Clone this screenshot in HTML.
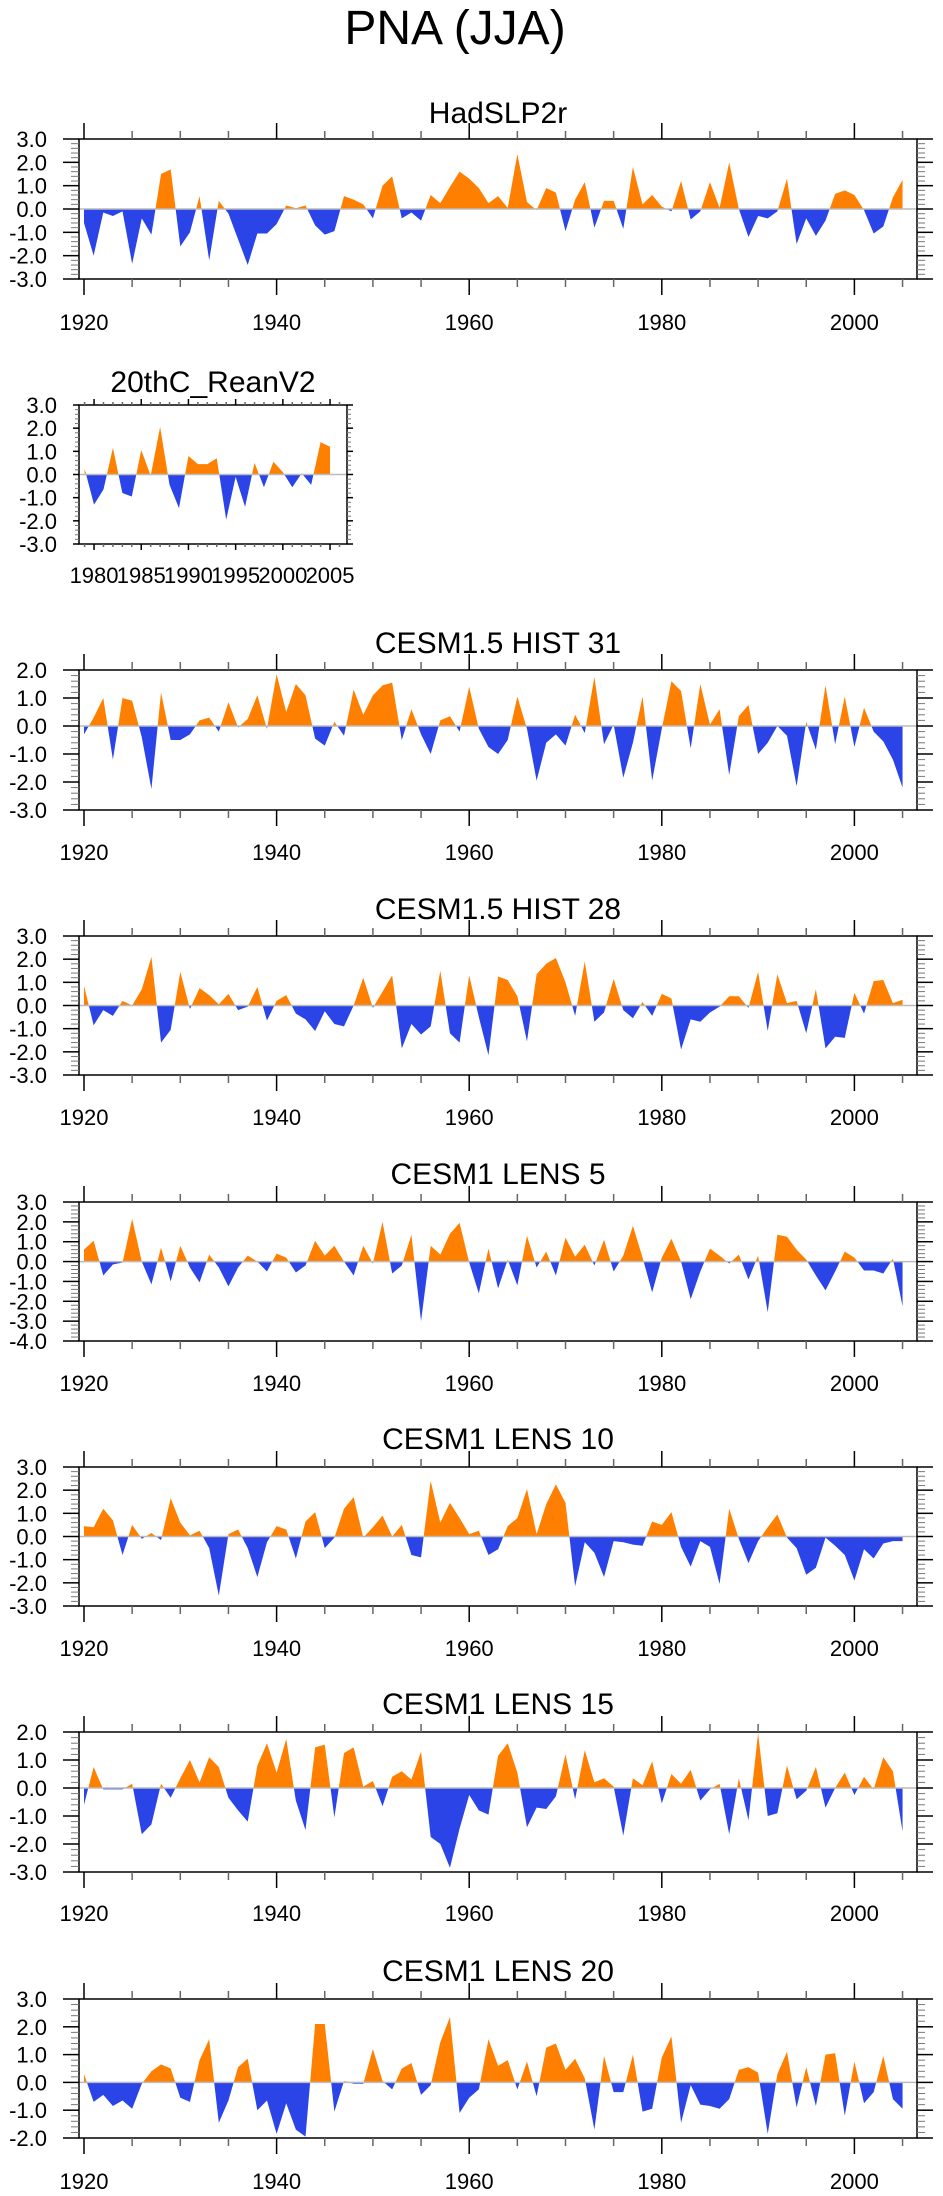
<!DOCTYPE html>
<html><head><meta charset="utf-8"><style>
html,body{margin:0;padding:0;background:#fff;}
svg{display:block;font-family:"Liberation Sans",sans-serif;}
</style></head><body>
<svg id="chart" width="943" height="2196" viewBox="0 0 943 2196" xmlns="http://www.w3.org/2000/svg">
<text x="455" y="44" font-size="48" text-anchor="middle">PNA (JJA)</text>
</svg>
<script>
// ---- data (values per year) ----
const yearsMain = {start: 1920, end: 2005};
const yearsRean = {start: 1979, end: 2005};
const hadslp2r = [-0.6,-2.0,-0.15,-0.3,-0.1,-2.35,-0.4,-1.1,1.5,1.7,-1.6,-1.0,0.55,-2.2,0.35,-0.2,-1.3,-2.4,-1.05,-1.05,-0.65,0.15,0.03,0.15,-0.7,-1.1,-0.95,0.55,0.4,0.2,-0.4,1.0,1.4,-0.4,-0.15,-0.5,0.6,0.25,0.95,1.6,1.3,0.9,0.25,0.55,0.05,2.35,0.3,-0.05,0.9,0.7,-0.95,0.4,1.15,-0.8,0.35,0.35,-0.85,1.8,0.2,0.6,0.1,-0.1,1.2,-0.45,-0.1,1.15,0.05,2.0,0.0,-1.2,-0.3,-0.4,-0.1,1.3,-1.5,-0.4,-1.15,-0.5,0.65,0.8,0.6,-0.05,-1.05,-0.75,0.5,1.25];
const rean20c = [0.25,-1.3,-0.65,1.15,-0.8,-0.95,1.05,-0.05,2.05,-0.45,-1.45,0.8,0.45,0.45,0.7,-1.95,-0.1,-1.4,0.5,-0.55,0.55,0.1,-0.55,0.05,-0.45,1.4,1.2];
const hist31 = [-0.3,0.3,1.0,-1.2,1.0,0.9,-0.4,-2.25,1.2,-0.5,-0.5,-0.3,0.2,0.3,-0.2,0.85,-0.05,0.25,1.1,-0.1,1.85,0.5,1.5,1.1,-0.45,-0.7,0.15,-0.35,1.3,0.4,1.1,1.45,1.55,-0.5,0.6,-0.3,-1.0,0.2,0.35,-0.2,1.4,-0.1,-0.75,-1.0,-0.5,1.05,-0.1,-1.95,-0.6,-0.3,-0.7,0.4,-0.25,1.75,-0.65,0.05,-1.85,-0.6,1.05,-1.95,-0.1,1.6,1.25,-0.8,1.5,0.05,0.6,-1.75,0.35,0.75,-1.0,-0.6,0.0,-0.35,-2.15,0.15,-0.85,1.45,-0.65,1.05,-0.75,0.65,-0.2,-0.55,-1.2,-2.2];
const hist28 = [0.85,-0.85,-0.2,-0.45,0.2,0.0,0.7,2.1,-1.6,-1.05,1.45,-0.15,0.75,0.45,0.05,0.5,-0.2,-0.05,0.8,-0.65,0.2,0.45,-0.35,-0.6,-1.1,-0.25,-0.8,-0.9,0.0,1.2,-0.1,0.6,1.3,-1.85,-0.8,-1.25,-0.9,1.5,-1.2,-1.6,1.3,-0.5,-2.15,1.25,1.1,0.4,-1.55,1.35,1.8,2.05,1.0,-0.45,1.9,-0.7,-0.3,1.15,-0.2,-0.55,0.15,-0.45,0.5,0.3,-1.9,-0.6,-0.7,-0.3,-0.05,0.4,0.4,-0.1,1.45,-1.1,1.35,0.1,0.2,-1.2,0.7,-1.85,-1.35,-1.4,0.55,-0.35,1.05,1.1,0.1,0.25];
const lens5 = [0.6,1.05,-0.7,-0.15,-0.05,2.15,0.0,-1.15,0.7,-1.0,0.8,-0.3,-1.05,0.35,-0.3,-1.25,-0.3,0.3,0.0,-0.5,0.4,0.2,-0.55,-0.2,1.05,0.3,0.8,0.0,-0.7,0.8,-0.1,2.0,-0.6,-0.2,1.35,-3.0,0.8,0.35,1.4,1.95,-0.05,-1.6,0.65,-1.35,0.1,-1.2,1.3,-0.3,0.5,-0.7,1.2,0.25,0.85,-0.2,1.1,-0.5,0.3,1.8,0.2,-1.55,0.2,1.15,0.0,-1.9,-0.5,0.65,0.3,-0.1,0.35,-0.9,0.3,-2.55,1.35,1.25,0.6,0.1,-0.7,-1.45,-0.5,0.5,0.2,-0.45,-0.45,-0.6,0.15,-2.25];
const lens10 = [0.45,0.4,1.2,0.7,-0.8,0.5,-0.1,0.15,-0.15,1.65,0.6,0.05,0.25,-0.5,-2.55,0.1,0.3,-0.5,-1.75,-0.25,0.45,0.3,-0.95,0.65,1.05,-0.5,-0.05,1.2,1.7,-0.05,0.4,0.9,0.0,0.5,-0.8,-0.9,2.4,0.6,1.45,0.8,0.1,0.25,-0.8,-0.55,0.45,0.8,2.05,0.1,1.4,2.25,1.45,-2.15,-0.25,-0.7,-1.75,-0.2,-0.25,-0.35,-0.4,0.65,0.5,1.05,-0.45,-1.3,-0.2,-0.45,-2.05,1.2,-0.1,-1.15,-0.2,0.4,0.95,-0.05,-0.5,-1.65,-1.35,-0.05,-0.4,-0.8,-1.9,-0.55,-0.95,-0.3,-0.2,-0.2];
const lens15 = [-0.6,0.75,-0.05,-0.05,-0.05,0.15,-1.65,-1.3,0.15,-0.35,0.35,1.0,0.2,1.1,0.75,-0.35,-0.8,-1.2,0.8,1.6,0.55,1.75,-0.45,-1.5,1.45,1.55,-1.05,1.25,1.45,0.05,0.25,-0.65,0.4,0.6,0.3,1.3,-1.75,-2.0,-2.85,-1.45,-0.25,-0.8,-0.95,1.15,1.6,0.55,-1.4,-0.7,-0.75,-0.3,1.2,-0.4,1.35,0.2,0.35,0.05,-1.7,0.35,0.1,0.95,-0.55,0.5,0.15,0.65,-0.45,-0.05,0.15,-1.65,0.35,-1.15,1.95,-1.0,-0.9,0.8,-0.4,-0.1,0.75,-0.7,0.0,0.55,-0.25,0.4,-0.05,1.1,0.6,-1.55];
const lens20 = [0.3,-0.7,-0.45,-0.85,-0.65,-0.95,-0.05,0.4,0.65,0.5,-0.55,-0.7,0.8,1.55,-1.45,-0.65,0.55,0.85,-1.0,-0.65,-1.85,-0.75,-1.7,-1.95,2.1,2.1,-1.05,0.05,-0.05,-0.05,1.2,0.05,-0.25,0.5,0.7,-0.45,-0.1,1.45,2.35,-1.1,-0.55,-0.25,1.55,0.6,0.8,-0.25,0.75,-0.5,1.25,1.4,0.45,0.85,0.15,-1.7,0.95,-0.35,-0.35,1.0,-1.05,-0.95,0.9,1.65,-1.45,-0.1,-0.8,-0.85,-0.95,-0.6,0.45,0.55,0.35,-1.85,0.3,1.1,-0.9,0.55,-0.85,1.0,1.05,-1.2,0.75,-0.75,-0.35,0.95,-0.6,-0.95];
const panelTitles = ["HadSLP2r","20thC_ReanV2","CESM1.5 HIST 31","CESM1.5 HIST 28","CESM1 LENS 5","CESM1 LENS 10","CESM1 LENS 15","CESM1 LENS 20"];
const yMins = [-3,-3,-3,-3,-4,-3,-3,-2];
const yMaxs = [3,3,2,3,3,3,2,3];
const seriesList = [hadslp2r, rean20c, hist31, hist28, lens5, lens10, lens15, lens20];

// ---- layout ----
const NS = "http://www.w3.org/2000/svg";
const svg = document.getElementById('chart');
const layouts = [
 {x0:79,x1:917,top:139,bot:279,yr0:1920,px0:84,ppy:9.63,title:112,lab:322,small:false},
 {x0:79,x1:347,top:405,bot:544,yr0:1979,px0:84.6,ppy:9.44,title:381,lab:575,small:true},
 {x0:79,x1:917,top:670,bot:810,yr0:1920,px0:84,ppy:9.63,title:642,lab:852,small:false},
 {x0:79,x1:917,top:936,bot:1075,yr0:1920,px0:84,ppy:9.63,title:908,lab:1117,small:false},
 {x0:79,x1:917,top:1202,bot:1341,yr0:1920,px0:84,ppy:9.63,title:1173,lab:1383,small:false},
 {x0:79,x1:917,top:1467,bot:1606,yr0:1920,px0:84,ppy:9.63,title:1438,lab:1648,small:false},
 {x0:79,x1:917,top:1732,bot:1872,yr0:1920,px0:84,ppy:9.63,title:1703,lab:1913,small:false},
 {x0:79,x1:917,top:1999,bot:2138,yr0:1920,px0:84,ppy:9.63,title:1970,lab:2181,small:false}
];
function mk(tag, attrs, parent){const e=document.createElementNS(NS,tag);for(const k in attrs)e.setAttribute(k,attrs[k]);(parent||svg).appendChild(e);return e;}
function line(g,x1,y1,x2,y2,c,w){return mk('line',{x1:x1,y1:y1,x2:x2,y2:y2,stroke:c||'#000','stroke-width':w||1},g);}

seriesList.forEach(function(data,i){
  const L = layouts[i], ymin=yMins[i], ymax=yMaxs[i];
  const g = mk('g',{});
  
  
  const xs = function(yr){return L.px0 + (yr - L.yr0)*L.ppy;};
  const ys = function(v){return L.bot - (v - ymin)/(ymax-ymin)*(L.bot-L.top);};
  const yz = ys(0);
  // title
  const t = mk('text',{x:(L.x0+L.x1)/2,y:L.title+11,'font-size':30,'text-anchor':'middle'},g);
  t.textContent = panelTitles[i];
  
  
  // area
  const pts = data.map(function(v,k){return [xs(L.yr0+k), ys(v)];});
  let d = 'M'+pts[0][0]+','+yz;
  pts.forEach(function(p){d+=' L'+p[0].toFixed(2)+','+p[1].toFixed(2);});
  d += ' L'+pts[pts.length-1][0]+','+yz+' Z';
  const cid='c'+i;
  const defs=mk('defs',{},g);
  const cpA=mk('clipPath',{id:cid+'a'},defs); mk('rect',{x:L.x0,y:L.top-5,width:L.x1-L.x0,height:yz-L.top+5},cpA);
  const cpB=mk('clipPath',{id:cid+'b'},defs); mk('rect',{x:L.x0,y:yz,width:L.x1-L.x0,height:L.bot-yz+5},cpB);
  const pos = mk('path',{d:d,fill:'#ff8000','clip-path':'url(#'+cid+'a)'},g);
  
  
  const neg = mk('path',{d:d,fill:'#2b44e8','clip-path':'url(#'+cid+'b)'},g);
  
  
  const zl = line(g,L.x0,yz,L.x1,yz,'#bbbbbb',1.5);
  
  
  // frame
  const fr = mk('rect',{x:L.x0,y:L.top,width:L.x1-L.x0,height:L.bot-L.top,fill:'none',stroke:'#000','stroke-width':1.5},g);
  
  
  // y ticks
  const majL = L.small?6:16, minL = L.small?4:8;
  for(let v=ymin; v<=ymax+1e-6; v+=0.2){
    const y=ys(v); const isMaj=Math.abs(v-Math.round(v))<1e-6;
    const len=isMaj?majL:minL;
    line(g,L.x0-len,y,L.x0,y,isMaj?'#000':'#777',isMaj?1.5:1);
    line(g,L.x1,y,L.x1+len,y,isMaj?'#000':'#777',isMaj?1.5:1);
    if(isMaj){
      const lab=mk('text',{x:L.small?57:47,y:y+8,'font-size':22,'text-anchor':'end'},g);
      lab.textContent=Math.round(v).toFixed(1);
      
      
    }
  }
  // x ticks
  const yrA = L.small? 1979 : 1920, yrB = L.small? 2007 : 2006;
  for(let yr=yrA; yr<=yrB; yr++){
    const x=xs(yr);
    if(x<L.x0||x>L.x1) continue;
    let len=0, maj=false;
    if(L.small){ if(yr%5===0){len=6;maj=true;} else len=3; }
    else { if(yr%20===0){len=16;maj=true;} else if(yr%5===0) len=8; }
    if(!len) continue;
    line(g,x,L.top-len,x,L.top,maj?'#000':'#666',1.5);
    line(g,x,L.bot,x,L.bot+len,maj?'#000':'#666',1.5);
    if(maj){
      const lab=mk('text',{x:x,y:L.lab+8,'font-size':22,'text-anchor':'middle'},g);
      lab.textContent=String(yr);
      
      
    }
  }
});
</script>
</body></html>
